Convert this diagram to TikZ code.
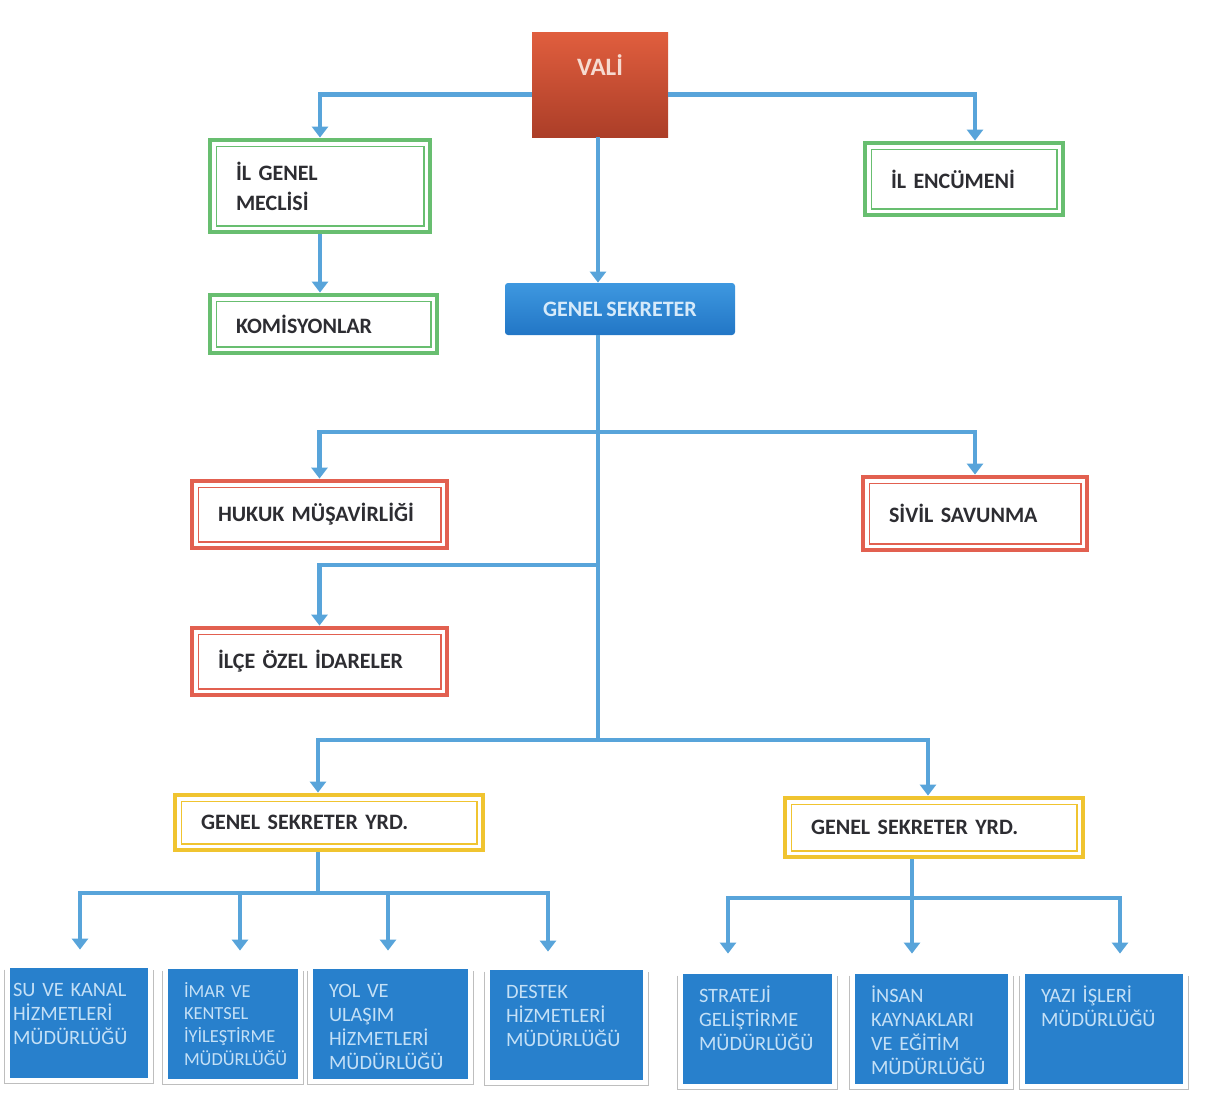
\documentclass[tikz,border=0pt]{standalone}
\usepackage{fontspec}
\setmainfont{Carlito}[WordSpace=0.8]
\usepackage{xcolor}
\definecolor{line_blue}{RGB}{88,164,218}
\definecolor{box_green}{RGB}{104,190,112}
\definecolor{box_red}{RGB}{226,96,80}
\definecolor{box_yellow}{RGB}{240,196,48}
\definecolor{label_gray}{RGB}{45,45,50}
\definecolor{vali_top}{RGB}{224,94,62}
\definecolor{vali_bottom}{RGB}{172,62,40}
\definecolor{vali_text}{RGB}{246,218,208}
\definecolor{sek_top}{RGB}{62,152,224}
\definecolor{sek_bottom}{RGB}{34,118,198}
\definecolor{sek_text}{RGB}{214,234,250}
\definecolor{unit_blue}{RGB}{40,128,204}
\definecolor{unit_text}{RGB}{196,224,246}
\definecolor{frame_gray}{RGB}{190,190,190}
\usepackage{tikz}
\usetikzlibrary{arrows.meta}

\tikzset{
  plain/.style={draw=line_blue, line width=2.2pt},
  link/.style={plain, -{Triangle[width=8pt,length=5.5pt]}},
  frame_box/.style={draw=#1, line width=2.4pt, fill=white, inner xsep=13pt, inner ysep=6pt,
    align=left, text=label_gray, font=\bfseries\fontsize{11}{15}\selectfont,
    path picture={\draw[#1, line width=0.9pt]
      ([shift={(3.2pt,3.2pt)}]path picture bounding box.south west) rectangle
      ([shift={(-3.2pt,-3.2pt)}]path picture bounding box.north east);}},
  green_box/.style={frame_box=box_green},
  red_box/.style={frame_box=box_red},
  yellow_box/.style={frame_box=box_yellow},
  vali_box/.style={top color=vali_top, bottom color=vali_bottom, minimum width=68pt, minimum height=52.5pt},
  sekreter_box/.style={top color=sek_top, bottom color=sek_bottom, rounded corners=1.5pt,
    text=sek_text, font=\bfseries\fontsize{11}{13}\selectfont, minimum width=115pt, minimum height=26pt},
  unit_box/.style={fill=unit_blue, text=unit_text, align=left, inner xsep=8pt, inner ysep=6pt,
    text height=8pt, text depth=35pt, font=\fontsize{10.2}{12.1}\selectfont},
  unit_frame/.style={draw=frame_gray, line width=0.8pt}
}

\begin{document}
\begin{tikzpicture}[x=0.5pt, y=-0.5pt]
\useasboundingbox (0,0) rectangle (1212,1119);

\node[vali_box, label={[anchor=north, yshift=-8pt, text=vali_text, font=\bfseries\fontsize{12.5}{14}\selectfont]north:VALİ}] (vali) at (600,84.5) {};
\node[green_box, text width=84pt, minimum height=46pt] (il_meclis) at (320,186) {İL GENEL\\MECLİSİ};
\node[green_box, text width=87.5pt, minimum height=29pt] (komisyon) at (323.5,324) {KOMİSYONLAR};
\node[green_box, text width=73pt, minimum height=36pt] (il_encumen) at (964,179) {İL ENCÜMENİ};
\node[sekreter_box] (gen_sek) at (620,309) {GENEL SEKRETER};

\node[red_box, text width=101.5pt, minimum height=33.5pt] (hukuk) at (319.5,514.5) {HUKUK MÜŞAVİRLİĞİ};
\node[red_box, text width=86pt, minimum height=36.5pt] (sivil) at (975,513.5) {SİVİL SAVUNMA};
\node[red_box, text width=101.5pt, minimum height=33.5pt] (ilce) at (319.5,661.5) {İLÇE ÖZEL İDARELER};

\node[yellow_box, text width=128pt, minimum height=27.5pt] (gsy_left) at (329,822.5) {GENEL SEKRETER YRD.};
\node[yellow_box, text width=123pt, minimum height=29.5pt] (gsy_right) at (934,827.5) {GENEL SEKRETER YRD.};

\node[unit_box, inner xsep=1.5pt, text width=66pt] (su_kanal) at (79,1023) {SU VE KANAL\\HİZMETLERİ\\MÜDÜRLÜĞÜ};
\node[unit_box, text width=49pt, font=\fontsize{9.2}{11.4}\selectfont] (imar) at (233,1024) {İMAR VE\\KENTSEL\\İYİLEŞTİRME\\MÜDÜRLÜĞÜ};
\node[unit_box, text width=61.5pt] (yol) at (390.5,1024) {YOL VE\\ULAŞIM\\HİZMETLERİ\\MÜDÜRLÜĞÜ};
\node[unit_box, text width=60.5pt] (destek) at (566.5,1025) {DESTEK\\HİZMETLERİ\\MÜDÜRLÜĞÜ};
\node[unit_box, text width=58.5pt] (strateji) at (757.5,1029) {STRATEJİ\\GELİŞTİRME\\MÜDÜRLÜĞÜ};
\node[unit_box, text width=60.5pt] (insan) at (931.5,1029) {İNSAN\\KAYNAKLARI\\VE EĞİTİM\\MÜDÜRLÜĞÜ};
\node[unit_box, text width=63pt] (yazi) at (1104,1029) {YAZI İŞLERİ\\MÜDÜRLÜĞÜ};

\foreach \n in {su_kanal,imar,yol,destek,strateji,insan,yazi}
  \draw[unit_frame] ([shift={(-2.5pt,-1pt)}]\n.north west) -- ([shift={(-2.5pt,-2.5pt)}]\n.south west)
    -- ([shift={(2.5pt,-2.5pt)}]\n.south east) -- ([shift={(2.5pt,-1pt)}]\n.north east);

\coordinate (br1) at (598,432);
\coordinate (br2) at (598,565);
\coordinate (br3) at (598,740);
\coordinate (bus_l) at (318,893);
\coordinate (bus_r) at (912,898);

\draw[link] ([yshift=-5pt]vali.west) -| (il_meclis);
\draw[link] ([yshift=-5pt]vali.east) -| ([xshift=5.5pt]il_encumen.north);
\draw[link] (il_meclis) -- (il_meclis.south |- komisyon.north);
\draw[link] (vali.south -| br1) -- (br1 |- gen_sek.north);

\draw[plain] (br1 |- gen_sek.south) -- (br3);
\draw[link] (br1) -| (hukuk);
\draw[link] (br1) -| (sivil);
\draw[link] (br2) -| (ilce);
\draw[link] (br3) -| ([xshift=-5.5pt]gsy_left.north);
\draw[link] (br3) -| ([xshift=-3pt]gsy_right.north);

\draw[plain] (gsy_left.south -| bus_l) -- (bus_l);
\draw[link, shorten >=9pt] (bus_l) -| ([xshift=0.5pt]su_kanal.north);
\draw[link, shorten >=9pt] (bus_l) -| ([xshift=3.5pt]imar.north);
\draw[link, shorten >=9pt] (bus_l) -| ([xshift=-1.25pt]yol.north);
\draw[link, shorten >=9pt] (bus_l) -| ([xshift=-9.25pt]destek.north);

\draw[plain] (gsy_right.south -| bus_r) -- (bus_r);
\draw[link, shorten >=10pt] (bus_r) -| ([xshift=-14.75pt]strateji.north);
\draw[link, shorten >=10pt] (bus_r) -| ([xshift=-9.75pt]insan.north);
\draw[link, shorten >=10pt] (bus_r) -| ([xshift=8pt]yazi.north);

\end{tikzpicture}
\end{document}
